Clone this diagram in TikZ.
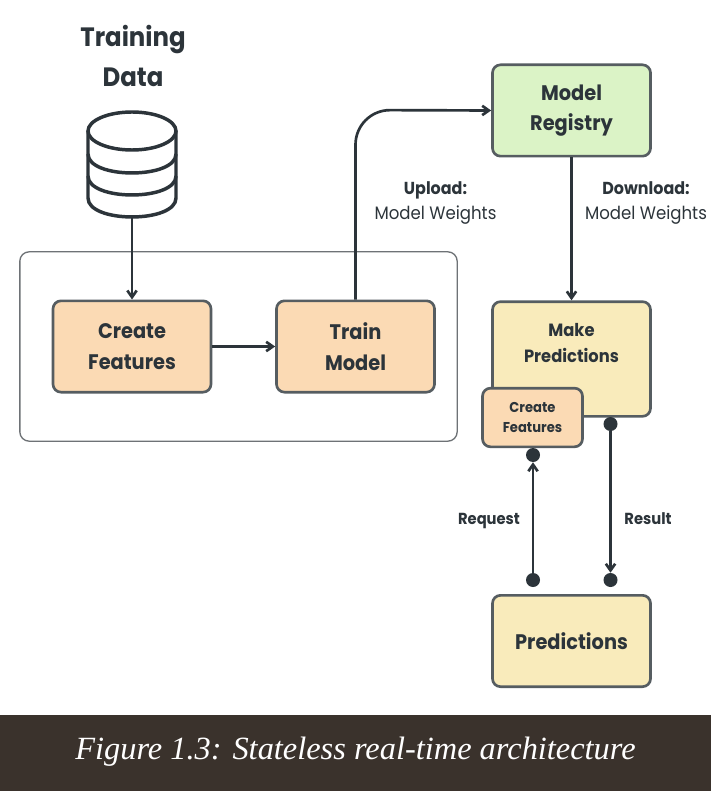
\documentclass[tikz,border=0pt]{standalone}
\usepackage{fontspec}
\setmainfont{Poppins}[FakeStretch=0.92]
\newfontfamily\capfont{Liberation Serif}
\usetikzlibrary{arrows.meta}
\definecolor{ink}{HTML}{2C343A}
\definecolor{peach}{HTML}{FBDAB4}
\definecolor{butter}{HTML}{F9EBBB}
\definecolor{mint}{HTML}{DBF3C6}
\definecolor{capbg}{HTML}{3A322C}
\definecolor{frameline}{HTML}{6E7276}
\tikzset{
  x=0.75pt,y=-0.75pt,
  box/.style={draw=ink!80,line width=2pt,rounded corners=6pt,minimum width=118.5pt,minimum height=68.5pt,align=center,text=ink,inner sep=0pt,font=\fontsize{15.8}{23}\selectfont\bfseries},
  smallbox/.style={box,minimum width=75pt,minimum height=44pt,font=\fontsize{10.7}{15.5}\selectfont\bfseries,fill=peach},
  link/.style={draw=ink,line width=2pt,-{Straight Barb[length=5pt,width=7pt]}},
  dot/.style={circle,fill=ink,inner sep=0pt,minimum size=10.5pt},
  lbl/.style={text=ink,align=center,inner sep=0pt,font=\fontsize{13.5}{18.75}\selectfont},
  dbline/.style={draw=ink,line width=2.6pt},
}
\begin{document}
\begin{tikzpicture}
\useasboundingbox (0,0) rectangle (711,791);
\fill[white] (0,0) rectangle (711,791);
\node[text=ink,align=center,inner sep=0pt,font=\fontsize{19.9}{30}\selectfont\bfseries] (title) at (133,55.5) {Training\\Data};
% database
\draw[dbline] (88,131) -- (88,198) .. controls (88,223.3) and (176,223.3) .. (176,198) -- (176,131);
\draw[dbline] (132,131) ellipse[x radius=44,y radius=19];
\draw[dbline] (88,154) .. controls (88,179.3) and (176,179.3) .. (176,154);
\draw[dbline] (88,176) .. controls (88,201.3) and (176,201.3) .. (176,176);
\coordinate (dbbottom) at (132,218);
\node[draw=frameline,line width=1pt,rounded corners=7pt,minimum width=328pt,minimum height=142pt,inner sep=0pt] (frame) at (238.5,346.5) {};
\node[box,fill=peach] (cf) at (132,346.5) {Create\\Features};
\node[box,fill=peach] (tm) at (355.5,346.5) {Train\\Model};
\node[box,fill=mint] (reg) at (571.5,110.5) {\raisebox{-1pt}{Model}\\\raisebox{-1pt}{Registry}};
\node[box,fill=butter,minimum height=86pt] (mp) at (571.5,359) {};
\node[text=ink,align=center,inner sep=0pt,font=\fontsize{13.3}{19.5}\selectfont\bfseries] (mptext) at (571.5,343) {Make\\Predictions};
\node[smallbox] (cf2) at (532.5,417.5) {Create\\Features};
\node[box,fill=butter] (pred) at (571.5,641) {Predictions};
\draw[link] (dbbottom) -- (cf);
\draw[link] (cf) -- (tm);
\draw[link,rounded corners=26pt] (tm.north) -- (355.5,110) -- (reg.west);
\draw[link] (reg) -- (mp);
\node[dot] (d1) at (533,455) {};
\node[dot] (d2) at (533,580) {};
\node[dot] (d3) at (610.5,424) {};
\node[dot] (d4) at (610.5,580) {};
\draw[link] (d2) -- (d1);
\draw[link] (d3) -- (d4);
\node[lbl] (up) at (435.5,203.5) {{\fontsize{13}{18.75}\selectfont\bfseries Upload:}\\Model Weights};
\node[lbl] (down) at (646,203.5) {{\fontsize{13}{18.75}\selectfont\bfseries Download:}\\Model Weights};
\node[lbl,font=\fontsize{12}{14}\selectfont\bfseries] (req) at (489,521) {Request};
\node[lbl,font=\fontsize{12}{14}\selectfont\bfseries] (res) at (648,519) {Result};
\fill[capbg] (0,715) rectangle (711,791);
\node[text=white,inner sep=0pt,font=\capfont\itshape\fontsize{24.3}{28}\selectfont] (cap) at (355.5,752) {Figure 1.3: Stateless real-time architecture};
\end{tikzpicture}
\end{document}
